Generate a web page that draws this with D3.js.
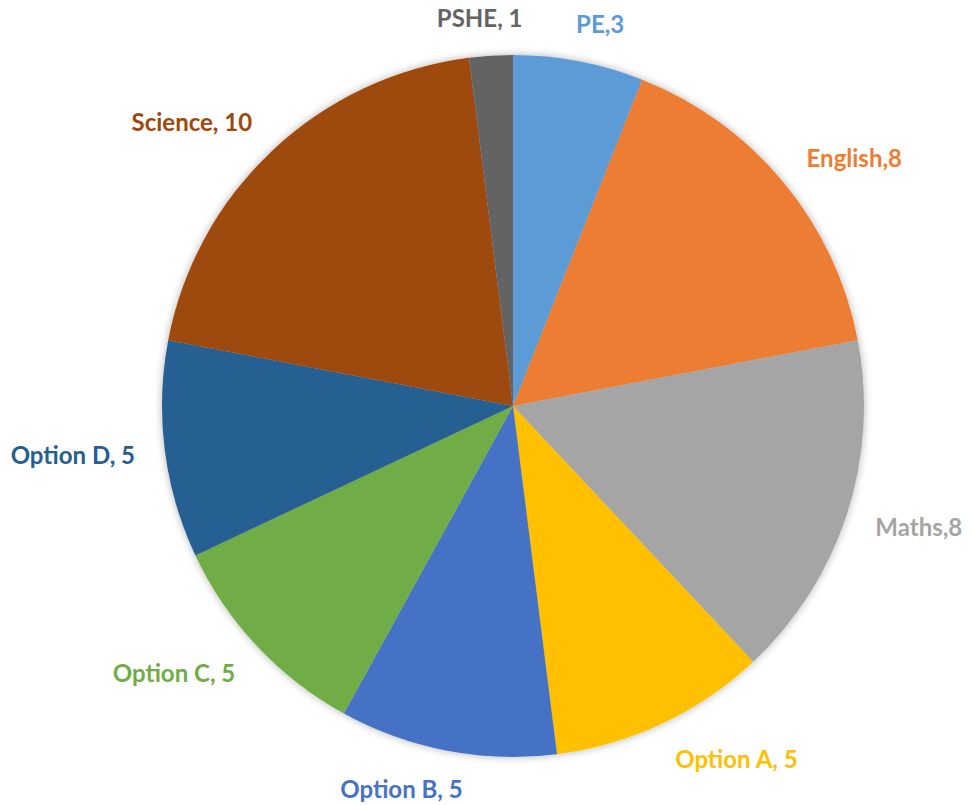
<!DOCTYPE html>
<html>
<head>
<meta charset="utf-8">
<script src="https://cdn.jsdelivr.net/npm/d3@7/dist/d3.min.js"></script>
<style>
  html, body { margin: 0; padding: 0; background: #ffffff; }
  svg { display: block; }
  text { font-family: Lato, "Open Sans", sans-serif; font-weight: bold; }
</style>
</head>
<body>
<svg id="chart" width="971" height="805"></svg>
<script>
// ---- data ----
const categories = ["PE", "English", "Maths", "Option A", "Option B", "Option C", "Option D", "Science", "PSHE"];
const values     = [3, 8, 8, 5, 5, 5, 5, 10, 1];
const labels     = ["PE,3", "English,8", "Maths,8", "Option A, 5", "Option B, 5", "Option C, 5", "Option D, 5", "Science, 10", "PSHE, 1"];
const colors     = ["#5B9BD5", "#ED7D31", "#A5A5A5", "#FFC000", "#4472C4", "#70AD47", "#255E91", "#9E480E", "#636363"];

// ---- layout ----
const W = 971, H = 805;
const cx = 513, cy = 406, R = 351;
const labelGap = 30;

const svg = d3.select("#chart");
const defs = svg.append("defs");
const filt = defs.append("filter").attr("id", "shadow").attr("x", "-10%").attr("y", "-10%").attr("width", "120%").attr("height", "120%");
filt.append("feGaussianBlur").attr("in", "SourceAlpha").attr("stdDeviation", 4).attr("result", "blur");
filt.append("feComponentTransfer").attr("in", "blur").attr("result", "soft")
  .append("feFuncA").attr("type", "linear").attr("slope", 0.3);
const merge = filt.append("feMerge");
merge.append("feMergeNode").attr("in", "soft");
merge.append("feMergeNode").attr("in", "SourceGraphic");

const data = categories.map((c, i) => ({ cat: c, value: values[i], label: labels[i], color: colors[i] }));

const pie = d3.pie().value(d => d.value).sort(null);
const arcs = pie(data);
const arc = d3.arc().innerRadius(0).outerRadius(R);

const g = svg.append("g").attr("transform", `translate(${cx},${cy})`);

g.append("g").attr("filter", "url(#shadow)")
  .selectAll("path").data(arcs).join("path")
  .attr("d", arc)
  .attr("fill", d => d.data.color);

const fontSize = 24;
const clamp = v => Math.max(-1, Math.min(1, v));
const lg = g.append("g");
arcs.forEach(a => {
  const mid = (a.startAngle + a.endAngle) / 2;
  const s = Math.sin(mid), c = -Math.cos(mid);
  const t = lg.append("text")
    .attr("font-size", fontSize)
    .attr("fill", a.data.color)
    .attr("text-anchor", "middle")
    .attr("dominant-baseline", "central")
    .text(a.data.label);
  const bb = t.node().getBBox();
  const rr = R + labelGap;
  const x = rr * s + clamp(3.5 * s) * bb.width / 2;
  const y = rr * c + c * bb.height * 0.3;
  t.attr("x", x).attr("y", y);
});
</script>
</body>
</html>
